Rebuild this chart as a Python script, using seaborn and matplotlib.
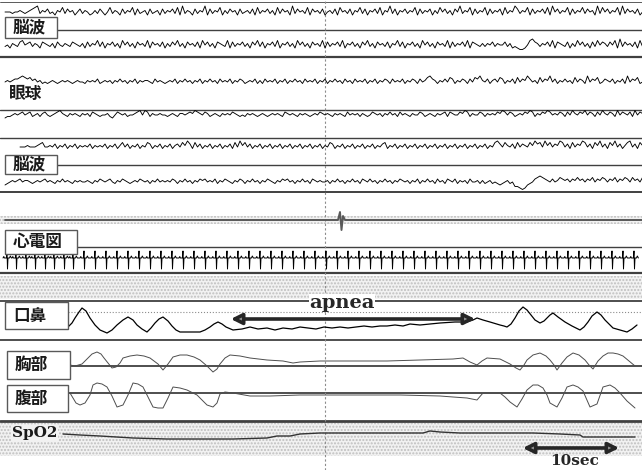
import numpy as np
import seaborn as sns
import matplotlib
matplotlib.use("Agg")
import matplotlib.pyplot as plt
from matplotlib.patches import Rectangle

# ==========================================
# DATA (time in seconds, amplitudes in px, up = positive)
# ==========================================
# EEG / EOG traces sampled every 0.25 s, one digit per sample ('5' = baseline)
eeg1 = ("55545565456789465745365847563574" "65346475358465374658374563745637"
        "46574839465374659374658364756374" "56473846574638475639475648375647"
        "35647385647365847365748365947365" "74658374657364857463759465837465"
        "83746573846597465837465748395746" "58374658475639485746583947564735")
eeg2 = ("45365478567465376546375465476546" "37465847365746385746375648375647"
        "36475846375647385746376548374657" "46375847365748365746385746375648"
        "37465748365746375846375647365847" "36574638574637564837465748376546"
        "46574655746343223589764657483765" "47364857463748576475839475647384")
eog1 = ("56567789878675645456545656545655" "46565745656465756465746566547565"
        "45657465756465746575647565746576" "45657464756574657465756475657465"
        "74657564756475657465746576475657" "46576475689764657587465764758796"
        "57467587465748576975648576957465" "75648576495768457657465749576845")
eog2 = ("34456567567456467545678654656546" "56476545564357656455678587465565"
        "54565466567687657645654656576545" "46565456545656547656546565456576"
        "56546565475656465457656465756475" "65465576456546567476557687465576"
        "46565768757645657687465768756576" "47586576857647586576485765748576")
eeg3 = ("55565556785565746574657465657465" "65746574685746574658746574657467"
        "58697485746574657465748596857465" "74657465746574657465746574658746"
        "57465746574657465784657465746574" "65746574657465746574657465746589"
        "75865748576586978596857698574857" "69857486957486957468957486957486")
eeg4 = ("34565675665456567565465756546565" "56546576567546576545657656465756"
        "56576465756465767565746576546576" "46575646576546576756465756476565"
        "56465756465756476575646575646576" "56465746575647564765746564755646"
        "45645434564522101345789876575687" "67576867576857687576857687586758")

# artefact channel (mostly flat, one spike)
art_t = [0.5, 33.8, 34.0, 34.15, 34.3, 34.5, 64.2]
art_v = [0, 0, 8, -10, 4, 0, 0]

# ECG: R-peak times and beat shape
ecg_beats = [0.7, 1.6, 2.6, 3.5, 4.5, 5.4, 6.4, 7.3, 8.4, 9.5, 10.6, 11.7, 12.8,
             13.9, 15.0, 16.1, 17.2, 18.3, 19.4, 20.5, 21.6, 22.7, 23.8, 24.9,
             26.0, 27.1, 28.2, 29.3, 30.4, 31.5, 32.6, 33.7, 34.8, 35.9, 37.0,
             38.1, 39.2, 40.3, 41.4, 42.5, 43.6, 44.7, 45.8, 46.9, 48.0, 49.1,
             50.2, 51.3, 52.4, 53.5, 54.6, 55.7, 56.8, 57.9, 59.0, 60.1, 61.2,
             62.3, 63.4]
beat_dt = [-0.40, -0.32, -0.26, -0.06, 0.0, 0.05, 0.10, 0.25, 0.33, 0.44]
beat_v = [0, 1.5, 0, 0, 7, -11, 0, 0, 2, 0]

# oronasal airflow
flow_t = [6.8, 7.2, 7.5, 7.9, 8.2, 8.6, 9.0, 9.5, 10.0, 10.7, 11.2, 11.7, 12.3,
          12.8, 13.3, 13.7, 14.2, 14.7, 15.1, 15.5, 15.9, 16.3, 16.8, 17.2, 17.6,
          18.0, 19.0, 20.0, 20.5, 21.0, 21.4, 21.8, 22.2, 22.6, 23.3, 24.2, 25.0,
          25.8, 26.7, 27.5, 28.3, 29.2, 30.0, 30.8, 31.6, 32.4, 33.2, 34.0, 34.8,
          35.6, 36.4, 37.2, 38.0, 38.7, 39.5, 40.3, 41.0, 42.0, 43.0, 44.0, 45.5,
          46.7, 47.3, 47.7, 48.3, 49.0, 50.0, 50.4, 50.7, 51.1, 51.5, 51.9, 52.3,
          52.7, 53.1, 53.5, 54.0, 54.4, 54.7, 55.0, 55.3, 55.8, 56.5, 57.2, 58.0,
          58.4, 58.8, 59.2, 59.7, 60.1, 60.5, 60.9, 61.3, 62.0, 62.7, 63.2, 63.7]
flow_v = [3, 7, 12, 18, 22, 19, 12, 5, 0, -3, 0, 5, 10,
          13, 10, 5, 1, -2, 2, 7, 11, 13, 9, 4, 0,
          -2, -2, -2, 0, 3, 6, 8, 6, 3, 0, 1, 3,
          1, 2, 0, 2, 1, 3, 2, 1, 3, 2, 3, 2,
          3, 4, 3, 4, 4, 5, 4, 6, 5, 6, 7, 8,
          8, 10, 12, 10, 8, 5, 4, 3, 6, 12, 19, 23,
          20, 15, 10, 7, 9, 12, 15, 17, 13, 8, 4, 0,
          3, 8, 14, 18, 15, 10, 6, 2, 0, -2, 1, 5]

# chest effort
chest_t = [7.0, 7.5, 8.2, 8.8, 9.2, 9.7, 10.1, 10.4, 10.8, 11.2, 11.6, 12.0, 12.3,
           13.0, 13.7, 14.4, 15.0, 15.4, 15.8, 16.3, 16.8, 17.3, 18.0, 18.7, 19.4,
           20.0, 20.7, 21.3, 21.7, 22.0, 22.5, 23.0, 24.0, 25.0, 26.7, 28.3, 29.3,
           30.0, 32.0, 34.0, 36.0, 38.7, 42.0, 45.3, 46.3, 47.0, 47.7, 48.2, 48.7,
           50.0, 51.0, 51.6, 52.0, 52.4, 52.7, 53.3, 54.0, 54.6, 55.0, 55.4, 55.7,
           56.2, 56.7, 57.3, 57.9, 58.5, 58.9, 59.3, 59.8, 60.3, 60.8, 61.3, 61.8,
           62.3, 62.9, 63.5]
chest_v = [1, 0, 2, 8, 12, 14, 12, 8, 3, -2, -1, 3, 8,
           10, 11, 10, 8, 5, 2, -4, 2, 9, 11, 11, 9,
           6, 0, -6, -3, 2, 8, 11, 10, 8, 6, 5, 3,
           4, 5, 5, 5, 5, 6, 7, 8, 4, 1, 5, 8,
           7, 2, -2, -4, 1, 6, 11, 13, 10, 6, 1, -4,
           3, 9, 13, 11, 6, 1, -3, 5, 10, 13, 13, 12,
           10, 5, 0]

# abdominal effort
abd_t = [7.0, 7.3, 7.6, 8.0, 8.5, 9.0, 9.3, 9.7, 10.2, 10.7, 11.2, 11.7, 12.3,
         12.8, 13.3, 13.8, 14.3, 14.8, 15.3, 15.8, 16.3, 16.8, 17.3, 18.0, 18.7,
         19.7, 20.3, 20.7, 21.3, 21.7, 22.0, 22.5, 23.3, 25.0, 27.0, 30.0, 32.0,
         35.0, 40.0, 44.0, 45.3, 46.7, 47.7, 48.3, 50.0, 50.5, 51.0, 51.7, 52.2,
         52.7, 53.3, 53.8, 54.3, 54.7, 55.0, 55.7, 56.2, 56.7, 57.3, 57.8, 58.3,
         59.0, 59.7, 60.3, 61.0, 61.5, 62.0, 62.7, 63.5]
abd_v = [0, -5, -10, -12, -10, -2, 8, 10, 9, 6, -3, -14, -12,
         -2, 10, 9, 6, -4, -14, -15, -15, -5, 6, 5, 3,
         -2, -8, -12, -14, -10, -1, 1, 0, -3, -3, -2, -2,
         -2, -2, -3, -4, -5, -7, 0, 0, -4, -9, -14, -6,
         3, 8, 8, 5, -2, -10, -14, -5, 6, 8, 6, 2,
         -14, -11, 6, 8, 5, 0, -8, -15]

# SpO2
spo2_t = [6.3, 8.0, 10.0, 13.3, 16.7, 20.0, 23.3, 26.7, 27.7, 29.0, 30.0, 32.0, 35.3,
          38.0, 42.3, 43.0, 44.0, 46.0, 48.7, 51.0, 53.3, 56.0, 58.0, 58.3, 60.0, 63.5]
spo2_v = [1, 0, -1, -3, -4, -4, -4, -3, -1, -1, 1, 2, 2,
          2, 2, 4, 3, 2, 2, 2, 2, 1, 0, -2, -2, -2]

apnea_start, apnea_end = 22.8, 47.8
scale_start, scale_end = 52.0, 62.2

# ==========================================
# LAYOUT (pixel rows of the 642x470 page)
# ==========================================
def px(x):
    return x / 10.0

sns.set_theme(style="white")
plt.rcParams['font.family'] = ['Noto Sans CJK JP', 'DejaVu Sans']

fig = plt.figure(figsize=(6.42, 4.70), dpi=100)
ax = fig.add_axes([0, 0, 1, 1])
ax.set_xlim(0, 64.2)
ax.set_ylim(470, 0)

def trace(t, v, base, scale=1.0, color='black', lw=0.6, z=3):
    t = np.asarray(t, dtype=float)
    y = base - np.asarray(v, dtype=float) * scale
    sns.lineplot(x=t, y=y, ax=ax, color=color, lw=lw, estimator=None,
                 sort=False, zorder=z)

def digits(s, start=0.5, step=0.25):
    v = np.array([int(c) - 5 for c in s], dtype=float)
    t = start + step * np.arange(len(v))
    return t, v

# separators: (row, x from, x to, width)
seps = [(1.5, 0, 642, 0.6), (30, 57, 642, 1.0), (57, 0, 642, 1.6), (110, 0, 642, 1.0),
        (138, 0, 642, 1.0), (165, 57, 642, 1.0), (192, 0, 642, 1.4),
        (247, 77, 642, 1.0), (273, 0, 642, 1.6), (301, 0, 642, 1.3),
        (340, 0, 642, 1.3), (366, 70, 642, 1.3), (393, 68, 642, 1.3),
        (421, 0, 642, 2.0)]
for row, x0, x1, w in seps:
    ax.plot([px(x0), px(x1)], [row, row], color='0.25', lw=w, zorder=2)

# halftone bands (stippled in the scan)
for y0, y1 in [(276, 299), (423, 456), (216, 224)]:
    ax.axhspan(y0, y1, fc='0.95', ec='0.75', hatch='.....', lw=0, zorder=1)
ax.plot([px(68), px(642)], [312, 312], color='0.55', lw=0.8, ls=':', zorder=2)

# cursor line
ax.axvline(px(325), color='0.55', lw=0.8, ls=(0, (2, 2)), zorder=2)

# EEG / EOG
for s, base, start in [(eeg1, 12, 0.5), (eeg2, 45, 0.5), (eog1, 82, 0.5),
                       (eog2, 115, 0.5), (eeg3, 147, 2.0), (eeg4, 182, 0.5)]:
    t, v = digits(s, start)
    trace(t, v, base, scale=1.5, lw=0.65)

trace(art_t, art_v, 220, color='0.35', lw=1.4)

# ECG
ecg_t = np.concatenate([b + np.array(beat_dt) for b in ecg_beats])
ecg_v = np.tile(beat_v, len(ecg_beats))
trace(ecg_t, ecg_v, 258, lw=0.7)

# respiration + SpO2
trace(flow_t, flow_v, 330, lw=0.9)
trace(chest_t, chest_v, 366, color='0.3', lw=0.7)
trace(abd_t, abd_v, 393, color='0.3', lw=0.7)
trace(spo2_t, spo2_v, 435, color='0.2', lw=1.0)

# channel labels
labels = [('脳波', 5, 17, 57, 38), ('脳波', 5, 155, 57, 174), ('心電図', 5, 230, 77, 254),
          ('口鼻', 5, 302, 68, 329), ('胸部', 7, 351, 70, 379), ('腹部', 7, 385, 68, 412)]
for txt, x0, y0, x1, y1 in labels:
    ax.add_patch(Rectangle((px(x0), y0), px(x1 - x0), y1 - y0, fc='white',
                           ec='0.35', lw=1.0, zorder=5))
    ax.text(px(x0 + 8), (y0 + y1) / 2, txt, fontsize=12, va='center', ha='left',
            zorder=6, color='0.1', fontweight='bold')
ax.text(px(9), 94, '眼球', fontsize=12, va='center', ha='left', zorder=6,
        color='0.1', fontweight='bold')
ax.text(px(12), 433, 'SpO2', fontsize=11, va='center', ha='left', zorder=6,
        family='DejaVu Serif', fontweight='bold', color='0.1',
        bbox=dict(fc='0.95', ec='none', pad=0.5))

# apnea arrow
ax.annotate('', xy=(apnea_end, 319), xytext=(apnea_start, 319),
            arrowprops=dict(arrowstyle='<|-|>', lw=2.6, color='0.15',
                            mutation_scale=16, fc='0.6'), zorder=7)
ax.text((apnea_start + apnea_end) / 2 - 1.1, 303, 'apnea', fontsize=14,
        family='DejaVu Serif', fontweight='bold', ha='center', va='center',
        zorder=7, bbox=dict(fc='white', ec='none', pad=0.3))

# 10 sec scale bar
ax.annotate('', xy=(scale_end, 448), xytext=(scale_start, 448),
            arrowprops=dict(arrowstyle='<|-|>', lw=2.6, color='0.15',
                            mutation_scale=16, fc='0.6'), zorder=7)
ax.text((scale_start + scale_end) / 2 + 0.4, 461, '10sec', fontsize=11,
        family='DejaVu Serif', fontweight='bold', ha='center', va='center', zorder=7)

ax.axis('off')
fig.savefig('out.png', dpi=100)
plt.close()
